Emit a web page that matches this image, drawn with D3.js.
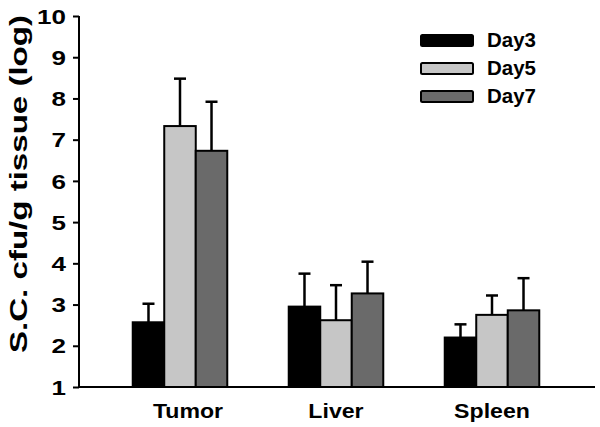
<!DOCTYPE html>
<html><head><meta charset="utf-8">
<script src="https://cdn.jsdelivr.net/npm/d3@7"></script>
<style>body{margin:0;background:#fff}svg{display:block}text{font-family:"Liberation Sans",Arial,sans-serif;font-weight:bold;fill:#000}</style>
</head><body><div id="chart"></div>
<script>
const categories = ["Tumor", "Liver", "Spleen"];
const seriesNames = ["Day3", "Day5", "Day7"];
const day3 = [2.57, 2.95, 2.20];
const day5 = [7.33, 2.62, 2.75];
const day7 = [6.73, 3.27, 2.86];
const day3Err = [0.45, 0.80, 0.32];
const day5Err = [1.15, 0.85, 0.47];
const day7Err = [1.19, 0.77, 0.78];
const yTicks = [1, 2, 3, 4, 5, 6, 7, 8, 9, 10];
const colors = ["#000000", "#c6c6c6", "#6a6a6a"];

const values = [day3, day5, day7];
const errs = [day3Err, day5Err, day7Err];

const W = 600, H = 427;
const svg = d3.select("#chart").append("svg").attr("width", W).attr("height", H);

function stretch(sel, f) {
  sel.each(function () {
    const w = this.getComputedTextLength();
    d3.select(this).attr("textLength", w * f).attr("lengthAdjust", "spacingAndGlyphs");
  });
}

const y = d3.scaleLinear().domain([1, 10]).range([387, 16]);
const x0 = d3.scaleBand().domain(categories).range([102, 570]).paddingInner(0.394).paddingOuter(0.197);
const x1 = d3.scaleBand().domain(seriesNames).range([0, x0.bandwidth()]);

// y axis
const yAxis = d3.axisLeft(y).tickValues(yTicks).tickSize(6).tickPadding(7).tickFormat(d3.format("d"));
const gy = svg.append("g").attr("transform", "translate(79,0)").call(yAxis);
gy.select(".domain").attr("stroke", "#000").attr("stroke-width", 2).attr("d", `M0,${y(10)}V${y(1)}`);
gy.selectAll(".tick line").attr("stroke", "#000").attr("stroke-width", 2);
gy.selectAll(".tick text").style("font-size", "20px").style("font-family", "'Liberation Sans',Arial,sans-serif").style("font-weight", "bold").attr("fill", "#000").attr("dy", "0.36em");
stretch(gy.selectAll(".tick text"), 1.3);

// bars
const data = [];
categories.forEach((c, i) => seriesNames.forEach((s, j) => data.push({c, s, j, v: values[j][i], e: errs[j][i]})));

const gBars = svg.append("g");
const eb = gBars.selectAll("g.err").data(data).enter().append("g");
eb.append("line")
  .attr("x1", d => x0(d.c) + x1(d.s) + x1.bandwidth() / 2)
  .attr("x2", d => x0(d.c) + x1(d.s) + x1.bandwidth() / 2)
  .attr("y1", d => y(d.v)).attr("y2", d => y(d.v + d.e))
  .attr("stroke", "#000").attr("stroke-width", 2.5);
eb.append("line")
  .attr("x1", d => x0(d.c) + x1(d.s) + x1.bandwidth() / 2 - 6)
  .attr("x2", d => x0(d.c) + x1(d.s) + x1.bandwidth() / 2 + 6)
  .attr("y1", d => y(d.v + d.e)).attr("y2", d => y(d.v + d.e))
  .attr("stroke", "#000").attr("stroke-width", 2.5);

gBars.selectAll("rect.bar").data(data).enter().append("rect")
  .attr("x", d => x0(d.c) + x1(d.s))
  .attr("y", d => y(d.v))
  .attr("width", x1.bandwidth())
  .attr("height", d => y(1) - y(d.v))
  .attr("fill", d => colors[d.j])
  .attr("stroke", "#000").attr("stroke-width", 2);

// x axis line
svg.append("line").attr("x1", 79).attr("x2", 595).attr("y1", y(1)).attr("y2", y(1))
  .attr("stroke", "#000").attr("stroke-width", 2);

// x labels
const xl = svg.append("g").selectAll("text").data(categories).enter().append("text")
  .attr("x", (d, i) => x0(d) + x0.bandwidth() / 2 + (i === 0 ? 8 : 0))
  .attr("y", 418).attr("text-anchor", "middle").style("font-size", "21px").text(d => d);
stretch(xl, 1.1);

// y title
const yt = svg.append("text").attr("transform", `translate(27,${(15 + 353) / 2}) rotate(-90)`)
  .attr("text-anchor", "middle").style("font-size", "24px").text("S.C. cfu/g tissue (log)");
yt.attr("textLength", 338).attr("lengthAdjust", "spacingAndGlyphs");

// legend
const lg = svg.append("g");
seriesNames.forEach((s, j) => {
  const yy = 35 + j * 28;
  lg.append("rect").attr("x", 421).attr("y", yy).attr("width", 52).attr("height", 11)
    .attr("rx", 1.5).attr("fill", colors[j]).attr("stroke", "#000").attr("stroke-width", 2);
  const t = lg.append("text").attr("x", 487).attr("y", yy + 11.5).style("font-size", "19.5px").text(s);
  stretch(t, 1.05);
});
</script></body></html>
